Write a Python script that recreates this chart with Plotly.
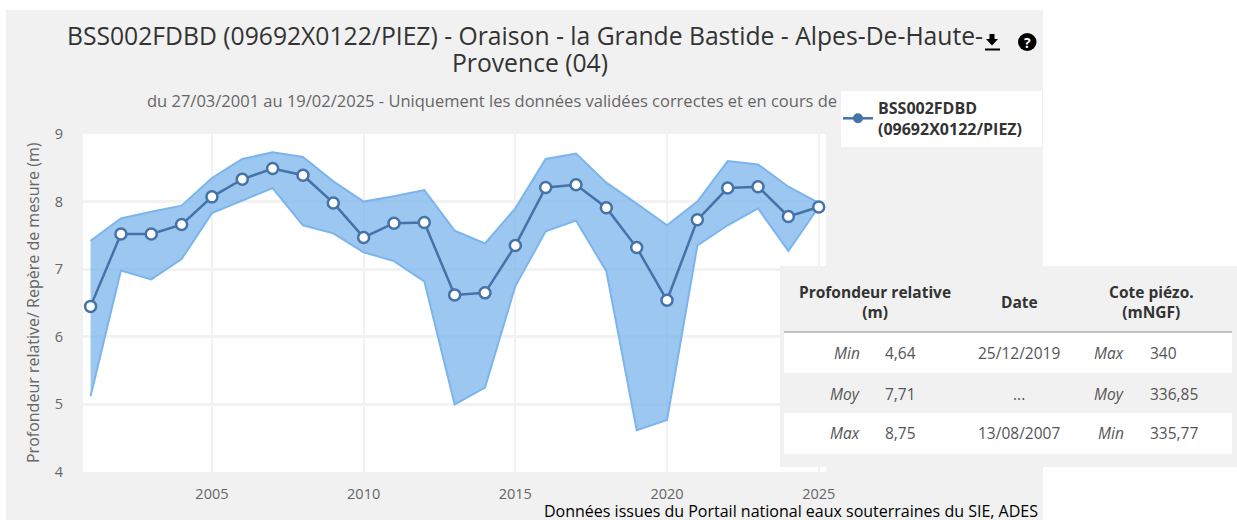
import plotly.graph_objects as go

W, H = 1237, 520
M = 10  # page margin kept round the plot area; all positions below are page pixels
FONT = "Open Sans"

years = list(range(2001, 2026))
upper = [7.42, 7.75, 7.85, 7.94, 8.35, 8.63, 8.73, 8.66, 8.30, 8.00, 8.08, 8.17, 7.57,
         7.38, 7.90, 8.63, 8.71, 8.28, 7.97, 7.65, 8.00, 8.60, 8.55, 8.22, 7.98]
lower = [5.12, 6.98, 6.85, 7.15, 7.83, 8.02, 8.20, 7.65, 7.53, 7.25, 7.12, 6.82, 5.00,
         5.25, 6.75, 7.56, 7.72, 6.97, 4.62, 4.77, 7.35, 7.65, 7.90, 7.27, 7.92]
mean = [6.45, 7.52, 7.52, 7.66, 8.07, 8.33, 8.49, 8.39, 7.98, 7.47, 7.68, 7.69, 6.62,
        6.65, 7.35, 8.21, 8.25, 7.91, 7.32, 6.54, 7.73, 8.20, 8.22, 7.78, 7.92]
x_ticks = [2005, 2010, 2015, 2020, 2025]
y_ticks = [4, 5, 6, 7, 8, 9]

series_name = "BSS002FDBD<br>(09692X0122/PIEZ)"
title_line1 = "BSS002FDBD (09692X0122/PIEZ) - Oraison - la Grande Bastide - Alpes-De-Haute-"
title_line2 = "Provence (04)"
subtitle = "du 27/03/2001 au 19/02/2025 - Uniquement les données validées correctes et en cours de"
y_title = "Profondeur relative/ Repère de mesure (m)"
credit = "Données issues du Portail national eaux souterraines du SIE, ADES"

table_headers = ["Profondeur relative<br>(m)", "Date", "Cote piézo.<br>(mNGF)"]
depth_labels = ["Min", "Moy", "Max"]
depth_values = ["4,64", "7,71", "8,75"]
dates = ["25/12/2019", "...", "13/08/2007"]
level_labels = ["Max", "Moy", "Min"]
level_values = ["340", "336,85", "335,77"]


def px(v):
    return (v - M) / (W - 2 * M)


def py(v):
    return 1 - (v - M) / (H - 2 * M)


def rect(x0, y0, x1, y1, color, layer="below"):
    return dict(type="rect", xref="paper", yref="paper", x0=px(x0), x1=px(x1), y0=py(y1), y1=py(y0),
                fillcolor=color, line_width=0, layer=layer)


def text(x, y, s, size=15.5, color="#555555", anchor="center", **font):
    return dict(xref="paper", yref="paper", x=px(x), y=py(y), text=s, showarrow=False, xanchor=anchor,
                yanchor="middle", font=dict(family=FONT, size=size, color=color, **font))


fig = go.Figure()
fig.add_trace(go.Scatter(x=years, y=lower, mode="lines", line=dict(color="#7cb5ec", width=2),
                         showlegend=False, hoverinfo="skip"))
fig.add_trace(go.Scatter(x=years, y=upper, mode="lines", line=dict(color="#7cb5ec", width=2),
                         fill="tonexty", fillcolor="rgba(124,181,236,0.76)", showlegend=False, hoverinfo="skip"))
fig.add_trace(go.Scatter(x=years, y=mean, mode="lines+markers", showlegend=False,
                         line=dict(color="#4572a7", width=2.5),
                         marker=dict(symbol="circle", size=11, color="white", line=dict(color="#4572a7", width=2.5))))
# Legend key: the reference shows a filled marker in the legend only
fig.add_trace(go.Scatter(x=[None], y=[None], mode="lines+markers", name=series_name,
                         line=dict(color="#4572a7", width=2.5), marker=dict(size=10, color="#4572a7")))

shapes = [
    rect(6, 10, 1043, 520, "#f1f1f1"),
    rect(83, 134, 826, 472, "#ffffff"),
    rect(841, 91, 1042, 147, "#ffffff"),
    # statistics panel drawn over the chart
    rect(780, 266, 1237, 467, "#f1f1f1", "above"),
    rect(784, 332, 1232, 373, "#ffffff", "above"),
    rect(784, 413, 1232, 454, "#ffffff", "above"),
    dict(type="line", xref="paper", yref="paper", x0=px(784), x1=px(1232), y0=py(332), y1=py(332),
         line=dict(color="#8c8c8c", width=1), layer="above"),
    # download icon
    dict(type="path", xref="paper", yref="paper", layer="above", fillcolor="#000000", line_width=0,
         path=" ".join([f"{c} {px(a)} {py(b)}" for c, a, b in [
             ("M", 989.5, 34), ("L", 994.5, 34), ("L", 994.5, 39), ("L", 998, 39), ("L", 992, 45.5),
             ("L", 986, 39), ("L", 989.5, 39)]]) + " Z"),
    rect(985, 48.5, 1000, 50.5, "#000000", "above"),
    # help icon
    dict(type="circle", xref="paper", yref="paper", layer="above", fillcolor="#000000", line_width=0,
         x0=px(1018), x1=px(1036.5), y0=py(51), y1=py(33)),
]

annotations = [
    text(530, 63, title_line2, size=24.7, color="#333333"),
    text(492, 101, subtitle, size=16.5, color="#666666"),
    text(790.5, 511, credit, size=16, color="#000000"),
    text(1027.3, 42, "?", size=14, color="#ffffff", weight="bold"),
    text(33, 303, y_title, size=16, color="#666666"),
]
annotations[-1]["textangle"] = -90

for cx, cy, head in zip([875, 1019, 1151], [302, 302, 302], table_headers):
    annotations.append(text(cx, cy, head, size=15.5, color="#333333", weight="bold"))
for y, a, b, c, d, e in zip([353, 394, 433], depth_labels, depth_values, dates, level_labels, level_values):
    annotations += [
        text(862, y, a, anchor="right", style="italic"),
        text(883, y, b, anchor="left"),
        text(1019, y, c),
        text(1126, y, d, anchor="right", style="italic"),
        text(1148, y, e, anchor="left"),
    ]

fig.update_layout(
    width=W, height=H, autosize=False, paper_bgcolor="#ffffff", plot_bgcolor="rgba(0,0,0,0)",
    margin=dict(l=M, r=M, t=M, b=M, autoexpand=False), font=dict(family=FONT),
    title=dict(text=title_line1, x=525 / W, xanchor="center", y=1 - 36 / H, yanchor="middle",
               font=dict(family=FONT, size=24.7, color="#333333")),
    legend=dict(x=px(838), y=py(91), xanchor="left", yanchor="top", bgcolor="rgba(0,0,0,0)",
                font=dict(family=FONT, size=16, color="#333333", weight="bold"), itemwidth=30),
    xaxis=dict(domain=[px(83), px(826)], range=[2000.75, 2025.24], tickvals=x_ticks, ticks="",
               ticklabelstandoff=11, showgrid=True, gridcolor="#f2f2f2", gridwidth=2, zeroline=False,
               tickfont=dict(family=FONT, size=14.5, color="#666666")),
    yaxis=dict(domain=[py(472), py(134)], range=[4, 9], tickvals=y_ticks, ticks="",
               ticklabelstandoff=19, showgrid=True, gridcolor="#f2f2f2", gridwidth=3, zeroline=False,
               tickfont=dict(family=FONT, size=14.5, color="#666666")),
    shapes=shapes, annotations=annotations,
)
fig.write_html("out.html", config={"displayModeBar": False},
               post_script="document.documentElement.style.overflow='hidden';document.body.style.margin='0';")
